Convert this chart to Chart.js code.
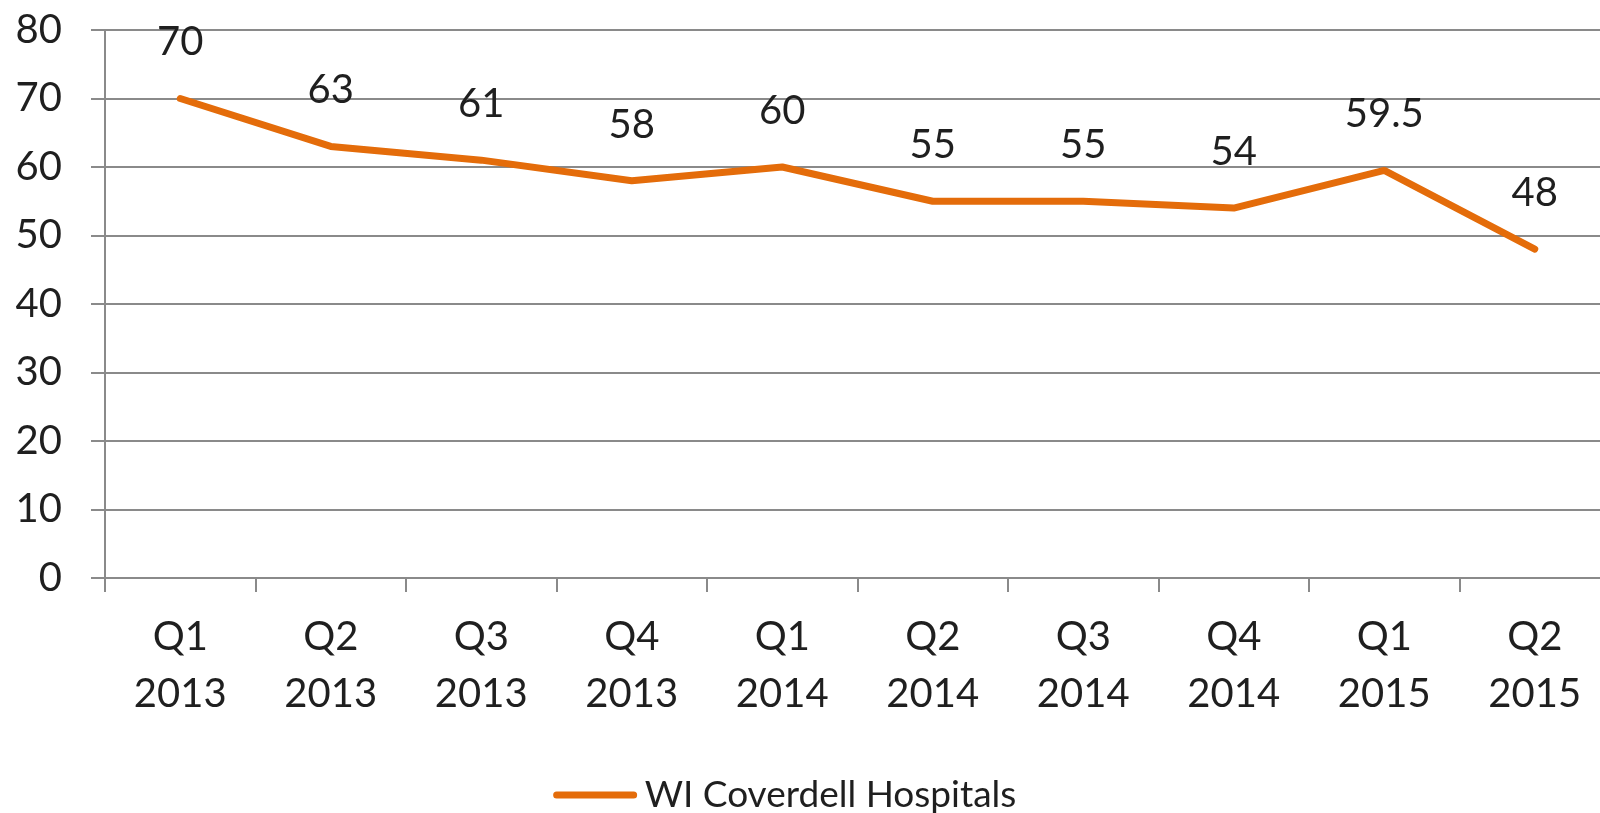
<!DOCTYPE html>
<html>
<head>
<meta charset="utf-8">
<script src="https://cdn.jsdelivr.net/npm/chart.js@4.4.1/dist/chart.umd.min.js"></script>
<style>
  html, body { margin: 0; padding: 0; background: #fff; overflow: hidden; }
  #wrap { width: 1600px; height: 813px; overflow: hidden; }
  #box { width: 1610px; height: 813px; }
</style>
</head>
<body>
<div id="wrap"><div id="box"><canvas id="lineChart"></canvas></div></div>
<script>
const quarters = ["Q1", "Q2", "Q3", "Q4", "Q1", "Q2", "Q3", "Q4", "Q1", "Q2"];
const years = ["2013", "2013", "2013", "2013", "2014", "2014", "2014", "2014", "2015", "2015"];
const coverdell = [70, 63, 61, 58, 60, 55, 55, 54, 59.5, 48];
const yTicks = [0, 10, 20, 30, 40, 50, 60, 70, 80];
const seriesName = "WI Coverdell Hospitals";

const FONT = "Lato, 'Open Sans', sans-serif";
const ORANGE = "#E46C0A";
const GRID = "#8a8a8a";
const TEXT = "#1f1f1f";

// value labels sitting above each point
const pointLabels = {
  id: "pointLabels",
  afterDatasetsDraw(chart) {
    const ctx = chart.ctx;
    const meta = chart.getDatasetMeta(0);
    ctx.save();
    ctx.font = "40px " + FONT;
    ctx.fillStyle = TEXT;
    ctx.textAlign = "center";
    ctx.textBaseline = "middle";
    meta.data.forEach((pt, i) => {
      ctx.fillText(String(chart.data.datasets[0].data[i]), pt.x, pt.y - 56);
    });
    ctx.restore();
  }
};

// legend drawn by hand so the gap between line and text stays small
const bottomLegend = {
  id: "bottomLegend",
  afterDraw(chart) {
    const ctx = chart.ctx;
    const ds = chart.data.datasets[0];
    ctx.save();
    ctx.font = "37px " + FONT;
    const tw = ctx.measureText(ds.label).width;
    const lineW = 83, gap = 8;
    const total = lineW + gap + tw;
    const cx = 785, cy = 795;
    const x0 = cx - total / 2;
    ctx.strokeStyle = ds.borderColor;
    ctx.lineWidth = 7;
    ctx.lineCap = "round";
    ctx.beginPath();
    ctx.moveTo(x0 + 3, cy);
    ctx.lineTo(x0 + lineW - 3, cy);
    ctx.stroke();
    ctx.fillStyle = TEXT;
    ctx.textAlign = "left";
    ctx.textBaseline = "middle";
    ctx.fillText(ds.label, x0 + lineW + gap, cy);
    ctx.restore();
  }
};

new Chart(document.getElementById("lineChart"), {
  type: "line",
  data: {
    labels: quarters.map((q, i) => [q, years[i]]),
    datasets: [{
      label: seriesName,
      data: coverdell,
      borderColor: ORANGE,
      backgroundColor: ORANGE,
      borderWidth: 7,
      pointRadius: 0,
      tension: 0,
      borderJoinStyle: "round",
      borderCapStyle: "round"
    }]
  },
  options: {
    responsive: true,
    maintainAspectRatio: false,
    animation: false,
    layout: { padding: { top: 30, left: 0, right: 0, bottom: 0 } },
    plugins: {
      legend: { display: false },
      tooltip: { enabled: false }
    },
    scales: {
      x: {
        offset: true,
        grid: {
          offset: true,
          drawOnChartArea: false,
          drawTicks: true,
          tickLength: 14,
          color: GRID,
          lineWidth: 2
        },
        border: { color: GRID, width: 2 },
        ticks: {
          color: TEXT,
          font: { family: FONT, size: 40, lineHeight: 1.425 },
          padding: 17,
          maxRotation: 0,
          autoSkip: false
        },
        afterFit: (scale) => { scale.height = 235; }
      },
      y: {
        min: 0,
        max: 80,
        afterBuildTicks: (axis) => { axis.ticks = yTicks.map(v => ({ value: v })); },
        grid: {
          color: GRID,
          lineWidth: 2,
          tickLength: 14
        },
        border: { color: GRID, width: 2 },
        ticks: {
          color: TEXT,
          font: { family: FONT, size: 40 },
          padding: 29
        },
        afterFit: (scale) => {
          scale.width = 105;
          scale.paddingTop = 0;
          scale.paddingBottom = 0;
        }
      }
    }
  },
  plugins: [pointLabels, bottomLegend]
});
</script>
</body>
</html>
